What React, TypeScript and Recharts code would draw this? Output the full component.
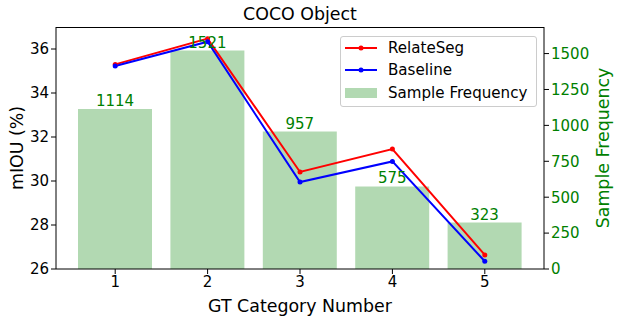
import React from 'react';
import { ComposedChart, Line, Bar, XAxis, YAxis, Legend, LabelList } from 'recharts';

const categories = ['1', '2', '3', '4', '5'];
const relateSeg = [35.3, 36.47, 30.41, 31.45, 26.64];
const baseline = [35.23, 36.33, 29.95, 30.89, 26.35];
const sampleFrequency = [1114, 1521, 957, 575, 323];
const leftTicks = [26, 28, 30, 32, 34, 36];
const rightTicks = [0, 250, 500, 750, 1000, 1250, 1500];

const data = categories.map((cat, i) => ({
    cat,
    relate: relateSeg[i],
    base: baseline[i],
    freq: sampleFrequency[i],
}));

const FONT = '"DejaVu Sans", sans-serif';
const GREEN = '#008000';

const LegendBox = () => {
    const rows = [
        { name: 'RelateSeg', color: '#ff0000', kind: 'line' },
        { name: 'Baseline', color: '#0000ff', kind: 'line' },
        { name: 'Sample Frequency', color: GREEN, kind: 'bar' },
    ];
    return (
        <div style={{ width: 195, height: 69, border: '1px solid #cccccc', borderRadius: 3, background: 'rgba(255,255,255,0.8)', fontFamily: FONT, fontSize: 15.1, color: '#000' }}>
            {rows.map((r, i) => (
                <div key={r.name} style={{ position: 'absolute', left: 5, top: 1 + i * 22.3, height: 22, display: 'flex', alignItems: 'center' }}>
                    <svg width={32} height={12} style={{ marginRight: 11 }}>
                        {r.kind === 'line' ? (
                            <>
                                <line x1={0} y1={6} x2={32} y2={6} stroke={r.color} strokeWidth={2} />
                                <circle cx={16} cy={6} r={2.5} fill={r.color} />
                            </>
                        ) : (
                            <rect x={0} y={1} width={32} height={10} fill={r.color} fillOpacity={0.3} />
                        )}
                    </svg>
                    <span>{r.name}</span>
                </div>
            ))}
        </div>
    );
};

export default function App() {
    return (
        <div style={{ position: 'absolute', left: 0, top: 0, width: 620, height: 322, background: '#fff', fontFamily: FONT }}>
            <ComposedChart width={620} height={322} data={data} margin={{ top: 27, right: 0, bottom: 0, left: 0 }}>
                <XAxis dataKey="cat" height={53} padding={{ left: 13, right: 13 }} axisLine={{ stroke: '#000' }}
                    tickLine={{ stroke: '#000' }} tickSize={5} tick={{ fontSize: 15, fill: '#000', fontFamily: FONT }} />
                <YAxis yAxisId="left" width={56} domain={[26, 37]} ticks={leftTicks} axisLine={{ stroke: '#000' }}
                    tickLine={{ stroke: '#000' }} tickSize={5} tick={{ fontSize: 15, fill: '#000', fontFamily: FONT }} />
                <YAxis yAxisId="right" orientation="right" width={76} domain={[0, 1685]} ticks={rightTicks} axisLine={{ stroke: '#000' }}
                    tickLine={{ stroke: '#000' }} tickSize={5} tick={{ fontSize: 15, fill: GREEN, fontFamily: FONT }} />
                <Line yAxisId="left" dataKey="relate" name="RelateSeg" stroke="#ff0000" strokeWidth={2}
                    dot={{ r: 2.5, fill: '#ff0000', stroke: '#ff0000', strokeWidth: 0 }} isAnimationActive={false} />
                <Line yAxisId="left" dataKey="base" name="Baseline" stroke="#0000ff" strokeWidth={2}
                    dot={{ r: 2.5, fill: '#0000ff', stroke: '#0000ff', strokeWidth: 0 }} isAnimationActive={false} />
                <Bar yAxisId="right" dataKey="freq" name="Sample Frequency" fill={GREEN} fillOpacity={0.3} barSize={74} isAnimationActive={false}>
                    <LabelList dataKey="freq" position="top" offset={3} fill={GREEN} fontSize={15} fontFamily={FONT} />
                </Bar>
                <Legend layout="vertical" align="center" verticalAlign="middle" content={() => <LegendBox />}
                    wrapperStyle={{ position: 'absolute', left: 340, top: 36, width: 197, height: 71 }} />
            </ComposedChart>
            {/* top spine */}
            <div style={{ position: 'absolute', left: 56, top: 26.5, width: 488, height: 0, borderTop: '1px solid #000' }} />
            <div style={{ position: 'absolute', left: 0, width: 600, top: 4, textAlign: 'center', fontSize: 17.4, color: '#000' }}>COCO Object</div>
            <div style={{ position: 'absolute', left: 56, width: 488, top: 296, textAlign: 'center', fontSize: 17.4, color: '#000' }}>GT Category Number</div>
            <div style={{ position: 'absolute', left: 17, top: 148, width: 0, height: 0 }}>
                <div style={{ position: 'absolute', transform: 'translate(-50%, -50%) rotate(-90deg)', whiteSpace: 'nowrap', fontSize: 17.4, color: '#000' }}>mIOU (%)</div>
            </div>
            <div style={{ position: 'absolute', left: 603, top: 148, width: 0, height: 0 }}>
                <div style={{ position: 'absolute', transform: 'translate(-50%, -50%) rotate(-90deg)', whiteSpace: 'nowrap', fontSize: 17.4, color: GREEN }}>Sample Frequency</div>
            </div>
        </div>
    );
}
